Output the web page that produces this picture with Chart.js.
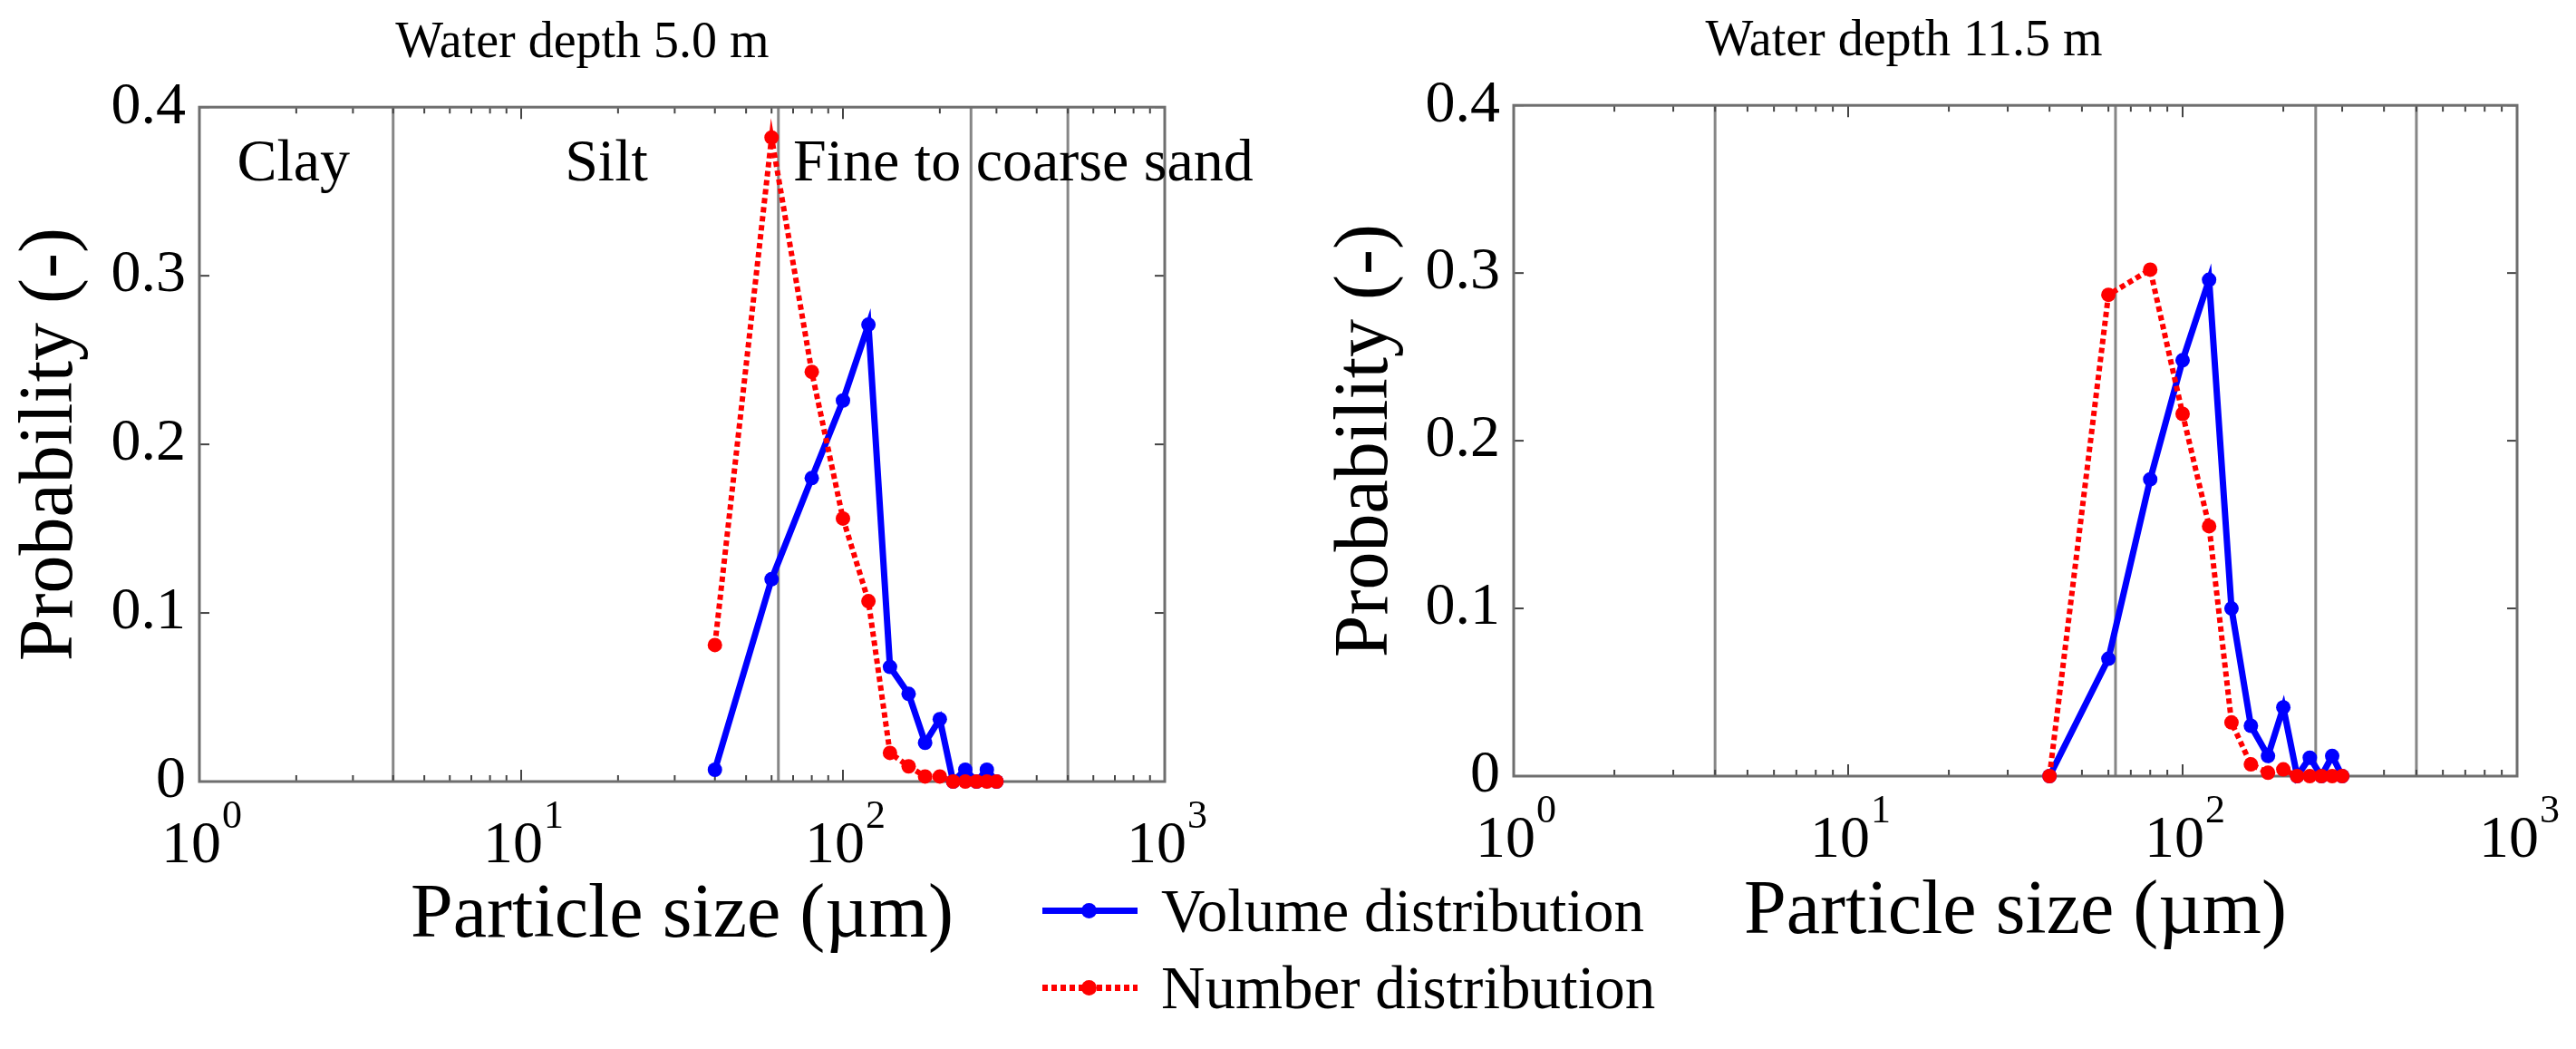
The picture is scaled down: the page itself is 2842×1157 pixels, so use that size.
<!DOCTYPE html>
<html lang="en">
<head>
<meta charset="UTF-8">
<title>Particle size distributions</title>
<script src="https://cdn.jsdelivr.net/npm/chart.js"></script>
<style>
    * { margin: 0; padding: 0; box-sizing: border-box; }
    body { background: #fff; width: 2842px; height: 1157px; overflow: hidden; font-family: 'Liberation Serif', serif; }
    #fig { position: relative; width: 2842px; height: 1157px; background: #fff; }
    .panel { position: absolute; top: 0; height: 1157px; }
    #p1 { left: 0; width: 1420px; }
    #p2 { left: 1420px; width: 1422px; }

    /* Legend sits between the two panels, under the axes */
    #legend { position: absolute; left: 1150px; top: 962px; font-family: 'Liberation Serif', serif; font-size: 67px; color: #000; }
    #legend .item { display: flex; align-items: center; height: 85px; white-space: nowrap; }
    #legend .swatch { position: relative; width: 105px; height: 7px; margin-right: 26px; }
    #legend .dot { position: absolute; left: 43px; top: -5px; width: 17px; height: 17px; border-radius: 50%; }
</style>
</head>
<body>

<div id="fig">
    <div class="panel" id="p1"><canvas id="c1"></canvas></div>
    <div class="panel" id="p2"><canvas id="c2"></canvas></div>
    <div id="legend"></div>
</div>

<script>
    // Particle size classes (µm)
    const sizes = [40, 60, 80, 100, 120, 140, 160, 180, 200, 220, 240, 260, 280, 300];

    // Water depth 5.0 m
    const volume5 = [0.007, 0.120, 0.180, 0.226, 0.271, 0.068, 0.052, 0.023, 0.037, 0.000, 0.007, 0.000, 0.007, 0.000];
    const number5 = [0.081, 0.382, 0.243, 0.156, 0.107, 0.017, 0.009, 0.003, 0.003, 0.000, 0.000, 0.000, 0.000, 0.000];

    // Water depth 11.5 m
    const volume115 = [0.000, 0.070, 0.177, 0.248, 0.296, 0.100, 0.030, 0.012, 0.041, 0.000, 0.011, 0.000, 0.012, 0.000];
    const number115 = [0.000, 0.287, 0.302, 0.216, 0.149, 0.032, 0.007, 0.002, 0.004, 0.000, 0.000, 0.000, 0.000, 0.000];

    const seriesNames = ['Volume distribution', 'Number distribution'];
    const seriesColors = ['#0000ff', '#ff0000'];
    const panelTitles = ['Water depth 5.0 m', 'Water depth 11.5 m'];

    // Grain class boundaries (µm) and their names
    const boundaries = [4, 63, 250, 500];
    const zoneNames = ['Clay', 'Silt', 'Fine to coarse sand'];

    const xTicks = [1, 10, 100, 1000];
    const xExponents = ['0', '1', '2', '3'];
    const yTicks = [0, 0.1, 0.2, 0.3, 0.4];
    const yTickLabels = ['0', '0.1', '0.2', '0.3', '0.4'];

    const serif = "'Liberation Serif', serif";
    Chart.defaults.font.family = serif;
    Chart.defaults.font.weight = 'normal';
    Chart.defaults.color = '#000';

    function seg(ctx, x1, y1, x2, y2) {
        ctx.beginPath();
        ctx.moveTo(x1, y1);
        ctx.lineTo(x2, y2);
        ctx.stroke();
    }

    // MATLAB-like box: frame, inward ticks, class boundaries, class names, 10^n exponents
    const matlabBox = {
        id: 'matlabBox',
        beforeDatasetsDraw(chart, args, opts) {
            const { ctx, chartArea: a, scales: { x, y } } = chart;
            ctx.save();

            // class boundaries
            ctx.strokeStyle = '#868686';
            ctx.lineWidth = 3;
            boundaries.forEach(b => {
                const px = x.getPixelForValue(b);
                seg(ctx, px, a.top, px, a.bottom);
            });

            // log ticks, bottom and top, pointing in
            ctx.strokeStyle = '#444';
            ctx.lineWidth = 2;
            for (let d = 0; d < 3; d++) {
                for (let m = 1; m <= 9; m++) {
                    const px = x.getPixelForValue(m * Math.pow(10, d));
                    const len = m === 1 ? 13 : 7;
                    seg(ctx, px, a.bottom, px, a.bottom - len);
                    seg(ctx, px, a.top, px, a.top + len);
                }
            }
            // y ticks, left and right
            yTicks.forEach(v => {
                const py = y.getPixelForValue(v);
                seg(ctx, a.left, py, a.left + 11, py);
                seg(ctx, a.right, py, a.right - 11, py);
            });

            // frame
            ctx.strokeStyle = '#6e6e6e';
            ctx.lineWidth = 3;
            ctx.strokeRect(a.left, a.top, a.width, a.height);

            // class names
            if (opts.labels) {
                ctx.font = '66px ' + serif;
                ctx.fillStyle = '#000';
                ctx.textBaseline = 'alphabetic';
                opts.labels.forEach(l => {
                    ctx.textAlign = l.align;
                    ctx.fillText(l.text, x.getPixelForValue(l.at), y.getPixelForValue(l.y));
                });
            }
            ctx.restore();
        },
        afterDraw(chart) {
            // exponent of each decade label, raised next to the "10"
            const { ctx, chartArea: a, scales: { x } } = chart;
            ctx.save();
            ctx.font = '44px ' + serif;
            ctx.fillStyle = '#000';
            ctx.textAlign = 'left';
            ctx.textBaseline = 'alphabetic';
            xTicks.forEach((v, i) => {
                ctx.fillText(xExponents[i], x.getPixelForValue(v) + 25, a.bottom + 51);
            });
            ctx.restore();
        }
    };

    function makeChart(id, title, vol, num, lay) {
        const ctx = document.getElementById(id).getContext('2d');
        const series = [vol, num];
        return new Chart(ctx, {
            type: 'line',
            data: {
                datasets: series.map((s, i) => ({
                    label: seriesNames[i],
                    data: sizes.map((v, k) => ({ x: v, y: s[k] })),
                    borderColor: seriesColors[i],
                    backgroundColor: seriesColors[i],
                    borderWidth: i === 1 ? 6 : 7,
                    borderDash: i === 1 ? [6, 4] : [],
                    borderCapStyle: 'butt',
                    pointRadius: 8,
                    pointBorderWidth: 0,
                    tension: 0,
                    clip: false,
                    order: i === 1 ? 1 : 2
                }))
            },
            options: {
                responsive: true,
                maintainAspectRatio: false,
                animation: false,
                events: [],
                layout: { padding: { left: 0, right: lay.padRight, top: 0, bottom: 0 } },
                plugins: {
                    legend: { display: false },
                    tooltip: { enabled: false },
                    title: {
                        display: true,
                        text: title,
                        color: '#000',
                        font: { family: serif, size: 56, weight: 'normal' },
                        padding: { top: lay.titleTop, bottom: lay.titleBottom }
                    },
                    matlabBox: { labels: lay.labels }
                },
                scales: {
                    x: {
                        type: 'logarithmic',
                        min: 1,
                        max: 1000,
                        grid: { display: false, drawTicks: false },
                        border: { display: false },
                        afterBuildTicks: s => { s.ticks = xTicks.map(v => ({ value: v })); },
                        afterFit: s => { s.height = lay.xHeight; },
                        ticks: {
                            autoSkip: false,
                            maxRotation: 0,
                            padding: 32,
                            labelOffset: -9,
                            color: '#000',
                            font: { family: serif, size: 66, weight: 'normal' },
                            callback: () => '10'
                        },
                        title: {
                            display: true,
                            text: 'Particle size (µm)',
                            color: '#000',
                            font: { family: serif, size: 84, weight: 'normal' },
                            padding: { top: 0, bottom: lay.xTitleBottom }
                        }
                    },
                    y: {
                        min: 0,
                        max: 0.4,
                        grid: { display: false, drawTicks: false },
                        border: { display: false },
                        afterBuildTicks: s => { s.ticks = yTicks.map(v => ({ value: v })); },
                        afterFit: s => { s.width = lay.yWidth; },
                        ticks: {
                            padding: 15,
                            color: '#000',
                            font: { family: serif, size: 66, weight: 'normal' },
                            callback: v => yTickLabels[yTicks.indexOf(v)]
                        },
                        title: {
                            display: true,
                            text: 'Probability (-)',
                            color: '#000',
                            font: { family: serif, size: 84, weight: 'normal' },
                            padding: { top: lay.yTitleTop, bottom: 0 }
                        }
                    }
                }
            },
            plugins: [matlabBox]
        });
    }

    makeChart('c1', panelTitles[0], volume5, number5, {
        padRight: 135, yWidth: 220, xHeight: 295,
        titleTop: 15, titleBottom: 36, xTitleBottom: 96, yTitleTop: 7,
        labels: [
            { text: zoneNames[0], at: 1.96, y: 0.3565, align: 'center' },
            { text: zoneNames[1], at: 18.4, y: 0.3565, align: 'center' },
            { text: zoneNames[2], at: 70, y: 0.3565, align: 'left' }
        ]
    });

    makeChart('c2', panelTitles[1], volume115, number115, {
        padRight: 61, yWidth: 250, xHeight: 301,
        titleTop: 13, titleBottom: 36, xTitleBottom: 100, yTitleTop: 38,
        labels: null
    });

    // Shared legend
    const legend = document.getElementById('legend');
    seriesNames.forEach((name, i) => {
        const item = document.createElement('div');
        item.className = 'item';
        const sw = document.createElement('span');
        sw.className = 'swatch';
        sw.style.background = i === 1
            ? 'repeating-linear-gradient(90deg, ' + seriesColors[i] + ' 0 6px, transparent 6px 10px)'
            : seriesColors[i];
        const dot = document.createElement('span');
        dot.className = 'dot';
        dot.style.background = seriesColors[i];
        sw.appendChild(dot);
        const txt = document.createElement('span');
        txt.textContent = name;
        item.appendChild(sw);
        item.appendChild(txt);
        legend.appendChild(item);
    });
</script>

</body>
</html>
